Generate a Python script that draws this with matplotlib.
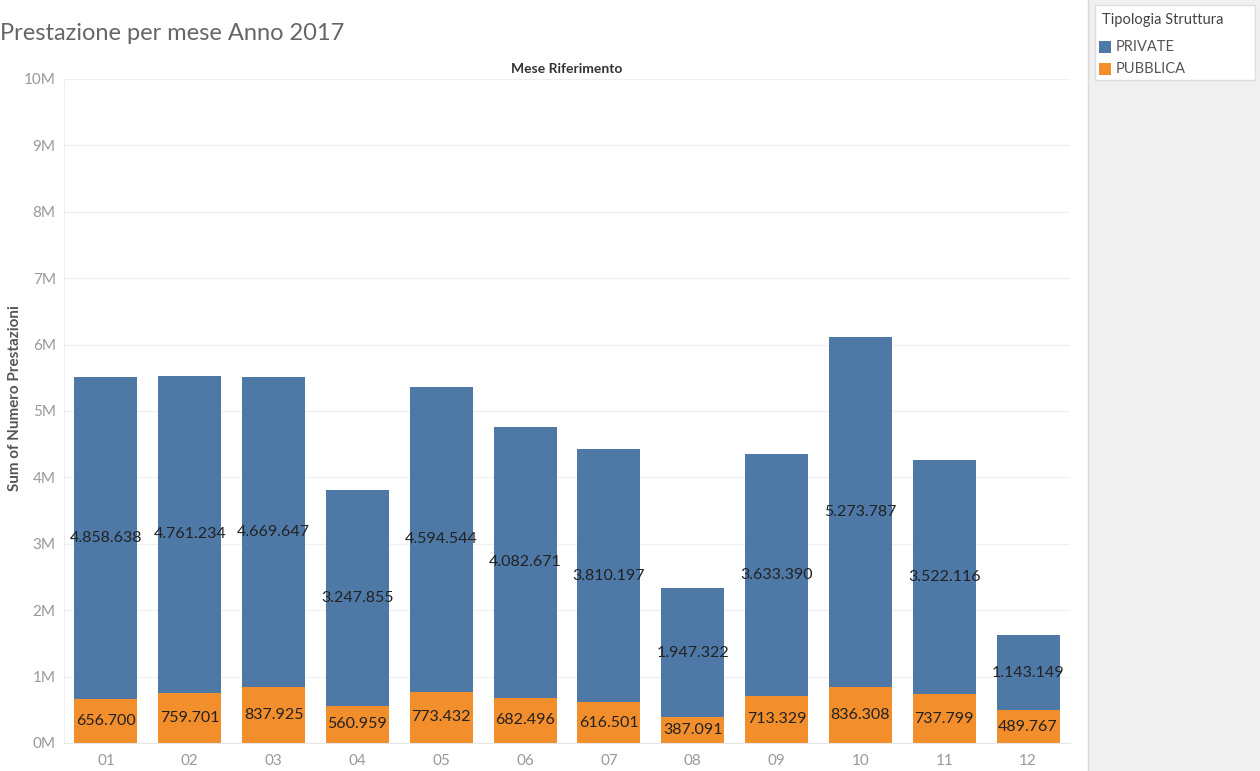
import numpy as np
import matplotlib.pyplot as plt
from matplotlib.patches import Rectangle
from matplotlib.ticker import FuncFormatter

mesi = ["01", "02", "03", "04", "05", "06", "07", "08", "09", "10", "11", "12"]
pubblica = [656700, 759701, 837925, 560959, 773432, 682496, 616501, 387091, 713329, 836308, 737799, 489767]
private = [4858638, 4761234, 4669647, 3247855, 4594544, 4082671, 3810197, 1947322, 3633390, 5273787, 3522116, 1143149]

blu = "#4e79a7"
arancio = "#f28e2b"
grigio_testo = "#999999"

plt.rcParams['font.family'] = ['Lato', 'DejaVu Sans']


def fmt_it(v):
    # separatore delle migliaia all'italiana
    return f"{v:,}".replace(",", ".")


fig = plt.figure(figsize=(12.6, 7.71), dpi=100)
ax = fig.add_axes([64 / 1260, 28 / 771, 1006 / 1260, 664 / 771])

x = np.arange(len(mesi))
pub = np.array(pubblica)
pri = np.array(private)
ax.bar(x, pub, width=0.75, color=arancio, zorder=2)
ax.bar(x, pri, width=0.75, bottom=pub, color=blu, zorder=2)

for i in range(len(mesi)):
    ax.text(x[i], pub[i] / 2, fmt_it(int(pub[i])), ha='center', va='center',
            fontsize=11.5, color='#222222', zorder=3)
    ax.text(x[i], pub[i] + pri[i] / 2, fmt_it(int(pri[i])), ha='center', va='center',
            fontsize=11.5, color='#222222', zorder=3)

ax.set_xlim(-0.5, 11.5)
ax.set_ylim(0, 10e6)
ax.set_yticks(np.arange(0, 10.1e6, 1e6))
ax.yaxis.set_major_formatter(FuncFormatter(lambda v, p: f"{int(round(v / 1e6))}M"))
ax.set_xticks(x)
ax.set_xticklabels(mesi)
ax.tick_params(axis='both', colors='#dddddd', labelcolor=grigio_testo, labelsize=11)
ax.tick_params(axis='y', length=0, pad=6)
ax.tick_params(axis='x', length=0, pad=8)
ax.grid(axis='y', color='#f0f0f0', linewidth=1, zorder=0)
for s in ['top', 'right']:
    ax.spines[s].set_visible(False)
ax.spines['left'].set_color('#eeeeee')
ax.spines['bottom'].set_color('#e6e6e6')

ax.set_ylabel("Sum of Numero Prestazioni", fontsize=11, color='#555555',
              fontweight='bold')
ax.yaxis.set_label_coords(-0.042, 0.52)
ax.set_title("Mese Riferimento", fontsize=10, color='#333333', fontweight='bold', pad=4)

fig.text(0.0, 1 - 33 / 771, "Prestazione per mese Anno 2017", fontsize=17,
         color='#666666', va='center', ha='left')

# pannello legenda sulla destra
fig.patches.append(Rectangle((1088 / 1260, 0), 172 / 1260, 1, transform=fig.transFigure,
                             facecolor='#f0f0f0', edgecolor='none', zorder=0))
fig.add_artist(plt.Line2D([1088 / 1260, 1088 / 1260], [0, 1], transform=fig.transFigure,
                          color='#d9d9d9', linewidth=1))
fig.patches.append(Rectangle((1095 / 1260, 1 - 80 / 771), 160 / 1260, 75 / 771,
                             transform=fig.transFigure, facecolor='white',
                             edgecolor='#dddddd', linewidth=1, zorder=1))
fig.text(1102 / 1260, 1 - 20 / 771, "Tipologia Struttura", fontsize=10.5,
         color='#444444', va='center', ha='left')
for j, (lab, col) in enumerate([("PRIVATE", blu), ("PUBBLICA", arancio)]):
    yc = 47 + 22 * j
    fig.patches.append(Rectangle((1099 / 1260, 1 - (yc + 6) / 771), 12 / 1260, 12 / 771,
                                 transform=fig.transFigure, facecolor=col,
                                 edgecolor='none', zorder=2))
    fig.text(1116 / 1260, 1 - yc / 771, lab, fontsize=10.5, color='#555555',
             va='center', ha='left')

plt.savefig("out.png", dpi=100)
